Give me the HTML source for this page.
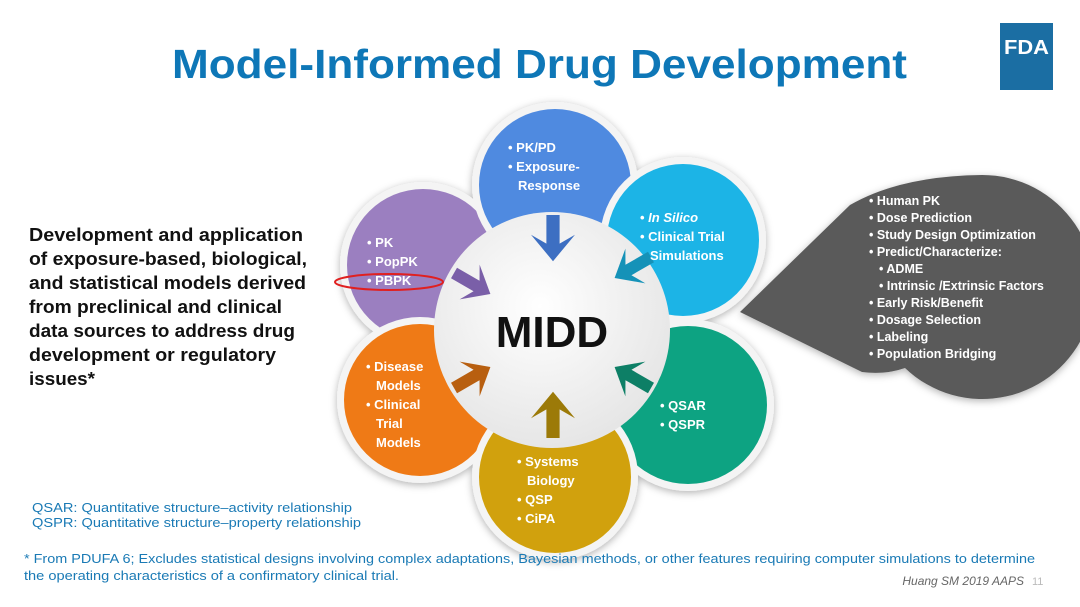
<!DOCTYPE html>
<html><head><meta charset="utf-8"><style>
html,body{margin:0;padding:0;background:#fff;}
svg{display:block;font-family:"Liberation Sans",sans-serif;}
</style></head><body>
<svg width="1080" height="607" viewBox="0 0 1080 607" xmlns="http://www.w3.org/2000/svg">
<defs>
<filter id="sh" x="-30%" y="-30%" width="160%" height="160%"><feDropShadow dx="0" dy="2" stdDeviation="4" flood-color="#000" flood-opacity="0.3"/></filter>
<radialGradient id="cg" cx="45%" cy="40%" r="60%"><stop offset="0" stop-color="#ffffff"/><stop offset="1" stop-color="#e6e6e6"/></radialGradient>
</defs>
<text x="172" y="78" font-size="41" font-weight="bold" fill="#0e77b7" textLength="735" lengthAdjust="spacingAndGlyphs">Model-Informed Drug Development</text>
<rect x="1000" y="23" width="53" height="67" fill="#1b6ea3"/>
<text x="1004" y="54" font-size="20" font-weight="bold" fill="#fff" textLength="45" lengthAdjust="spacingAndGlyphs">FDA</text>

<g font-size="18" font-weight="bold" fill="#111">
<text x="29" y="241" textLength="274" lengthAdjust="spacingAndGlyphs">Development and application</text>
<text x="29" y="265" textLength="278" lengthAdjust="spacingAndGlyphs">of exposure-based, biological,</text>
<text x="29" y="289" textLength="277" lengthAdjust="spacingAndGlyphs">and statistical models derived</text>
<text x="29" y="313" textLength="253" lengthAdjust="spacingAndGlyphs">from preclinical and clinical</text>
<text x="29" y="337" textLength="266" lengthAdjust="spacingAndGlyphs">data sources to address drug</text>
<text x="29" y="361" textLength="247" lengthAdjust="spacingAndGlyphs">development or regulatory</text>
<text x="29" y="385" textLength="66" lengthAdjust="spacingAndGlyphs">issues*</text>
</g>

<!-- gray bubble -->
<path d="M740,312 L850,205 Q900,176 982,175 A112,112 0 1 1 905,368 Q885,375 862,372 Z" fill="#5a5a5a" filter="url(#sh)"/>

<!-- circles -->
<g filter="url(#sh)">
<circle cx="423" cy="265" r="83" fill="#f4f4f4"/><circle cx="423" cy="265" r="76" fill="#9b7fc0"/>
<circle cx="555" cy="185" r="83" fill="#f4f4f4"/><circle cx="555" cy="185" r="76" fill="#4f8ae0"/>
<circle cx="683" cy="240" r="83" fill="#f4f4f4"/><circle cx="683" cy="240" r="76" fill="#1ab4e6"/>
<circle cx="688" cy="405" r="86" fill="#f4f4f4"/><circle cx="688" cy="405" r="79" fill="#10a382"/>
<circle cx="420" cy="400" r="83" fill="#f4f4f4"/><circle cx="420" cy="400" r="76" fill="#ef7a12"/>
<circle cx="555" cy="477" r="83" fill="#f4f4f4"/><circle cx="555" cy="477" r="76" fill="#d1a10a"/>
<circle cx="552" cy="330" r="118" fill="url(#cg)"/>
</g>

<!-- arrows -->
<g>
<g transform="translate(553,248) rotate(90)"><path d="M-30,-6 L-4,-6 L-12,-20 L12,0 L-12,20 L-4,6 L-30,6 Z" fill="#3d6fc2" transform="scale(1.1)"/></g>
<g transform="translate(480,288) rotate(30)"><path d="M-30,-6 L-4,-6 L-12,-20 L12,0 L-12,20 L-4,6 L-30,6 Z" fill="#7a5fa8"/></g>
<g transform="translate(625,272) rotate(150)"><path d="M-30,-6 L-4,-6 L-12,-20 L12,0 L-12,20 L-4,6 L-30,6 Z" fill="#1592b8"/></g>
<g transform="translate(625,373) rotate(210)"><path d="M-30,-6 L-4,-6 L-12,-20 L12,0 L-12,20 L-4,6 L-30,6 Z" fill="#0d7f66"/></g>
<g transform="translate(480,373) rotate(-30)"><path d="M-30,-6 L-4,-6 L-12,-20 L12,0 L-12,20 L-4,6 L-30,6 Z" fill="#b85f10"/></g>
<g transform="translate(553,405) rotate(-90)"><path d="M-30,-6 L-4,-6 L-12,-20 L12,0 L-12,20 L-4,6 L-30,6 Z" fill="#9c7a08" transform="scale(1.1)"/></g>
</g>

<text x="552" y="347" font-size="44" font-weight="bold" fill="#111" text-anchor="middle">MIDD</text>

<g font-size="13" font-weight="bold" fill="#fff">
<text x="508" y="152">• PK/PD</text>
<text x="508" y="171">• Exposure-</text>
<text x="518" y="190">Response</text>
<text x="640" y="222">• <tspan font-style="italic">In Silico</tspan></text>
<text x="640" y="241">• Clinical Trial</text>
<text x="650" y="260">Simulations</text>
<text x="367" y="247">• PK</text>
<text x="367" y="266">• PopPK</text>
<text x="367" y="285">• PBPK</text>
<text x="366" y="371">• Disease</text>
<text x="376" y="390">Models</text>
<text x="366" y="409">• Clinical</text>
<text x="376" y="428">Trial</text>
<text x="376" y="447">Models</text>
<text x="660" y="410">• QSAR</text>
<text x="660" y="429">• QSPR</text>
<text x="517" y="466">• Systems</text>
<text x="527" y="485">Biology</text>
<text x="517" y="504">• QSP</text>
<text x="517" y="523">• CiPA</text>
</g>
<ellipse cx="389" cy="282" rx="54" ry="8" fill="none" stroke="#e02020" stroke-width="2"/>

<g font-size="12.5" font-weight="bold" fill="#fff">
<text x="869" y="205">• Human PK</text>
<text x="869" y="222">• Dose Prediction</text>
<text x="869" y="239">• Study Design Optimization</text>
<text x="869" y="256">• Predict/Characterize:</text>
<text x="879" y="273">• ADME</text>
<text x="879" y="290">• Intrinsic /Extrinsic Factors</text>
<text x="869" y="307">•  Early Risk/Benefit</text>
<text x="869" y="324">•  Dosage Selection</text>
<text x="869" y="341">•  Labeling</text>
<text x="869" y="358">•  Population Bridging</text>
</g>

<g font-size="12.5" fill="#1a7ab5">
<text x="32" y="512" textLength="320" lengthAdjust="spacingAndGlyphs">QSAR: Quantitative structure–activity relationship</text>
<text x="32" y="527" textLength="329" lengthAdjust="spacingAndGlyphs">QSPR: Quantitative structure–property relationship</text>
<text x="24" y="563" font-size="13" textLength="1011" lengthAdjust="spacingAndGlyphs">* From PDUFA 6; Excludes statistical designs involving complex adaptations, Bayesian methods, or other features requiring computer simulations to determine</text>
<text x="24" y="580" font-size="13" textLength="375" lengthAdjust="spacingAndGlyphs">the operating characteristics of a confirmatory clinical trial.</text>
</g>
<text x="1024" y="585" font-size="12" font-style="italic" fill="#666" text-anchor="end">Huang SM 2019 AAPS</text>
<text x="1032" y="585" font-size="11" fill="#bbb">11</text>
</svg>
</body></html>
